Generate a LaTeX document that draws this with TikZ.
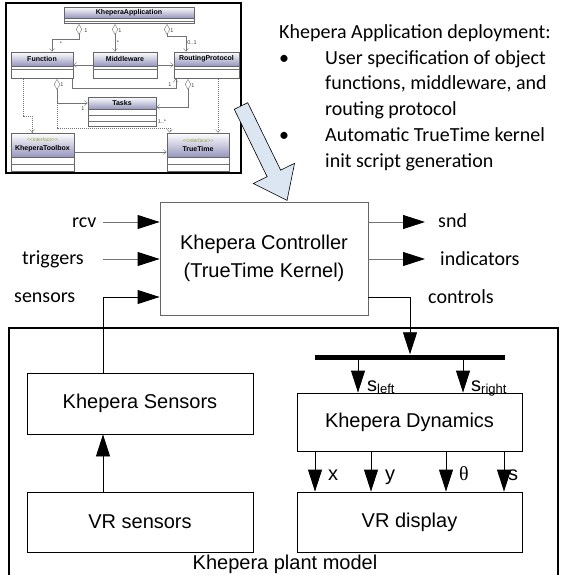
\documentclass[tikz,border=0pt]{standalone}
\usepackage{fontspec}
\setmainfont{Carlito}
\newfontfamily\arialfont{Liberation Sans}
\newfontfamily\timesfont{Liberation Serif}
\usetikzlibrary{arrows.meta, positioning, shapes}
\definecolor{ublue}{RGB}{150,150,190}
\definecolor{uolive}{RGB}{150,165,60}
\definecolor{bigfill}{RGB}{220,230,242}

\begin{document}
\begin{tikzpicture}[x=1pt, y=-1pt,
    block/.style={rectangle, draw, line width=0.8pt, font=\arialfont\fontsize{20}{28}\selectfont, align=center, inner sep=0pt},
    lbl/.style={font=\fontsize{20}{24}\selectfont, inner sep=0pt, anchor=base west},
    alb/.style={font=\arialfont\fontsize{20}{24}\selectfont, inner sep=0pt, anchor=base west},
    sig/.style={line width=0.8pt, -{Triangle[length=22pt, width=14pt, color=black]}},
    uhead/.style={rectangle, draw=black!60, line width=0.6pt, top color=white, bottom color=ublue, font=\arialfont\bfseries\fontsize{7}{8}\selectfont, inner sep=0pt, align=center},
    ubody/.style={rectangle, draw=black!60, line width=0.6pt, fill=white, inner sep=0pt},
    uline/.style={draw=black!55, line width=0.4pt},
    udep/.style={uline, dash pattern=on 1.2pt off 0.8pt},
    ulbl/.style={font=\arialfont\fontsize{5.5}{5.5}\selectfont, inner sep=0pt, text=black!75},
    uarr/.style={-{Straight Barb[length=3pt, width=5pt]}},
    uagg/.style={{Diamond[open, length=11pt, width=6pt]}-{Straight Barb[length=3pt, width=5pt]}}
  ]
  \useasboundingbox (0,0) rectangle (571,575);

  % class diagram of the application
  \node[draw, line width=2pt, minimum width=235pt, minimum height=170pt] (uml) at (123.5,88) {};

  \node[uhead, minimum width=130pt, minimum height=11pt] (app) at (129,12.5) {KheperaApplication};
  \node[ubody, minimum width=130pt, minimum height=5pt, below=0pt of app] (appb) {};
  \draw[uline] (appb.west) -- (appb.east);

  \node[uhead, minimum width=62pt, minimum height=14pt] (fn) at (42,59) {Function};
  \node[ubody, minimum width=62pt, minimum height=12pt, below=0pt of fn] (fnb) {};
  \draw[uline] ([yshift=-2.5pt]fnb.north west) -- ([yshift=-2.5pt]fnb.north east);

  \node[uhead, minimum width=64pt, minimum height=14pt] (mw) at (125,59) {Middleware};
  \node[ubody, minimum width=64pt, minimum height=12pt, below=0pt of mw] (mwb) {};
  \draw[uline] ([yshift=-2.5pt]mwb.north west) -- ([yshift=-2.5pt]mwb.north east);

  \node[uhead, minimum width=65pt, minimum height=14pt] (rp) at (206.5,59) {RoutingProtocol};
  \node[ubody, minimum width=65pt, minimum height=12pt, below=0pt of rp] (rpb) {};
  \draw[uline] ([yshift=-2.5pt]rpb.north west) -- ([yshift=-2.5pt]rpb.north east);

  \node[uhead, minimum width=68pt, minimum height=12pt] (tasks) at (122,103) {Tasks};
  \node[ubody, minimum width=68pt, minimum height=17pt, below=0pt of tasks] (tasksb) {};
  \draw[uline] ([yshift=-6pt]tasksb.north west) -- ([yshift=-6pt]tasksb.north east);
  \draw[uline] ([yshift=-12pt]tasksb.north west) -- ([yshift=-12pt]tasksb.north east);

  \node[uhead, minimum width=63pt, minimum height=24pt] (tbx) at (42.5,145) {{\color{uolive}\mdseries\fontsize{5}{6}\selectfont\textless\textless interface\textgreater\textgreater}\\[1pt]KheperaToolbox};
  \node[ubody, minimum width=63pt, minimum height=14pt, below=0pt of tbx] (tbxb) {};
  \draw[uline] ([yshift=-7pt]tbxb.north west) -- ([yshift=-7pt]tbxb.north east);

  \node[uhead, minimum width=62pt, minimum height=24pt] (tt) at (198,145) {{\color{uolive}\mdseries\fontsize{5}{6}\selectfont\textless\textless interface\textgreater\textgreater}\\[1pt]TrueTime};
  \node[ubody, minimum width=62pt, minimum height=14pt, below=0pt of tt] (ttb) {};
  \draw[uline] ([yshift=-7pt]ttb.north west) -- ([yshift=-7pt]ttb.north east);

  \coordinate (fnagg) at ([xshift=15pt]fnb.south);
  \coordinate (rpagg) at ([xshift=-18.5pt]rpb.south);
  \coordinate (rpdep) at ([xshift=11.5pt]rpb.south);

  \draw[uline, uagg] ([xshift=-50pt]appb.south) -- ++(0,15) -| ([xshift=10pt]fn.north);
  \draw[uline, uagg] ([xshift=-14pt]appb.south) -- ([xshift=-10pt]mw.north);
  \draw[uline, uagg] ([xshift=38pt]appb.south) -- ++(0,12) -| ([xshift=-20.5pt]rp.north);
  \draw[uline, uarr] ([yshift=-6pt]mw.west) -- ([yshift=-6pt]fn.east);
  \draw[uline, uarr] ([yshift=-6pt]mw.east) -- ([yshift=-6pt]rp.west);
  \draw[uline, uarr] ([xshift=-1pt]fnb.south east) -- ++(0,9) -| ([xshift=2pt]rpb.south west);
  \draw[uline, uagg] (fnagg) |- (tasks.west);
  \draw[udep, uarr] (fnagg |- tasks.west) -- ++(0,25) -| ([xshift=3pt]tt.north west);
  \draw[uline, uagg] (rpagg) |- ([yshift=-4pt]tasks.east);
  \draw[udep, uarr] (rpdep) -- (rpdep |- tt.north);
  \draw[udep, uarr] ([xshift=-19pt]fnb.south) -- ++(0,37) -| ([xshift=-10.5pt]tbx.north);
  \draw[udep, uarr] ([yshift=-7pt]tbx.east) -- ([yshift=-7pt]tt.west);

  \node[ulbl] (m1) at (86,31) {1};
  \node[ulbl] (m2) at (61,44) {*};
  \node[ulbl] (m3) at (120,31) {1};
  \node[ulbl] (m4) at (118,43) {*};
  \node[ulbl] (m5) at (172,31) {1};
  \node[ulbl] (m6) at (192,43) {0..1};
  \node[ulbl] (m7) at (62,85) {1};
  \node[ulbl] (m8) at (83,109) {1};
  \node[ulbl] (m9) at (193,86) {1};
  \node[ulbl] (m10) at (162,122) {1..*};
  \node[ulbl] (m11) at (170,85) {1};

  % deployment notes
  \node[anchor=north west, inner sep=0pt, font=\fontsize{20}{25.8}\selectfont] (deploy) at (279,20) {%
    \begin{tabular}{@{}l@{}l@{}}
      \multicolumn{2}{@{}l@{}}{Khepera Application deployment:}\\
      \makebox[46pt][l]{\textbullet} & User specification of object\\
      & functions, middleware, and\\
      & routing protocol\\
      \makebox[46pt][l]{\textbullet} & Automatic TrueTime kernel\\
      & init script generation
    \end{tabular}};

  \begin{scope}[shift={(241,106)}, rotate=-64]
    \draw[line width=0.6pt, fill=bigfill] (0,-7.5) -- (75,-7.5) -- (75,-23) -- (105,0) -- (75,23) -- (75,7.5) -- (0,7.5) -- cycle;
  \end{scope}

  % controller
  \node[block, draw=black!60, minimum width=208pt, minimum height=113pt] (ctrl) at (264,258.5) {Khepera Controller\\(TrueTime Kernel)};

  \node[lbl] (rcv) at (72,227) {rcv};
  \node[lbl] (trig) at (22,264) {triggers};
  \node[lbl] (sensl) at (14,302) {sensors};
  \node[lbl] (snd) at (438,227) {snd};
  \node[lbl] (ind) at (440,265) {indicators};
  \node[lbl] (ctl) at (428,303) {controls};

  % plant model
  \node[draw, line width=2pt, minimum width=549pt, minimum height=262pt, anchor=north west] (plant) at (8,327) {};
  \node[block, minimum width=226pt, minimum height=61pt] (sens) at (140,403.5) {Khepera Sensors};
  \node[block, minimum width=226pt, minimum height=60pt] (vrs) at (140,522) {VR sensors};
  \node[block, minimum width=225pt, minimum height=58pt] (dyn) at (409.5,422) {Khepera Dynamics};
  \node[block, minimum width=225pt, minimum height=60pt] (disp) at (409.5,522) {VR display};
  \node[fill=black, inner sep=0pt, minimum width=190pt, minimum height=5pt] (bus) at (410,357) {};
  \node[font=\arialfont\fontsize{20}{24}\selectfont, inner sep=0pt, anchor=base] (plantlbl) at (285,569) {Khepera plant model};

  \coordinate (rcvin) at (103,222);
  \coordinate (trigin) at (103,259);
  \coordinate (sensin) at (103,297);
  \coordinate (sndout) at (425,222);
  \coordinate (indout) at (425,259);
  \coordinate (ctlout) at (410,297);
  \coordinate (sleft) at (358,357);
  \coordinate (sright) at (463,357);

  \draw[sig, draw=black!55] (rcvin) -- (rcvin -| ctrl.west);
  \draw[sig, draw=black!55] (trigin) -- (trigin -| ctrl.west);
  \draw[sig] (sens.north -| sensin) -- (sensin) -- (sensin -| ctrl.west);
  \draw[sig, draw=black!55] (sndout -| ctrl.east) -- (sndout);
  \draw[sig, draw=black!55] (indout -| ctrl.east) -- (indout);
  \draw[sig] (ctlout -| ctrl.east) -- (ctlout) -- (ctlout |- bus.north);
  \draw[sig] (vrs.north -| sensin) -- (sens.south -| sensin);

  \draw[sig] (sleft |- bus.south) -- (sleft |- dyn.north);
  \draw[sig] (sright |- bus.south) -- (sright |- dyn.north);
  \node[alb] (sl) at (367,391) {s\raisebox{-2pt}{\fontsize{13}{13}\selectfont left}};
  \node[alb] (sr) at (471,391) {s\raisebox{-2pt}{\fontsize{13}{13}\selectfont right}};

  \draw[sig] ([xshift=-94.5pt]dyn.south) -- ([xshift=-94.5pt]disp.north);
  \draw[sig] ([xshift=-38.5pt]dyn.south) -- ([xshift=-38.5pt]disp.north);
  \draw[sig] ([xshift=36.5pt]dyn.south) -- ([xshift=36.5pt]disp.north);
  \draw[sig] ([xshift=94.5pt]dyn.south) -- ([xshift=94.5pt]disp.north);
  \node[alb] (xl) at (328,480) {x};
  \node[alb] (yl) at (385,480) {y};
  \node[alb, font=\timesfont\fontsize{20}{24}\selectfont] (thl) at (459,480) {θ};
  \node[alb] (spl) at (508,480) {s};
\end{tikzpicture}
\end{document}
